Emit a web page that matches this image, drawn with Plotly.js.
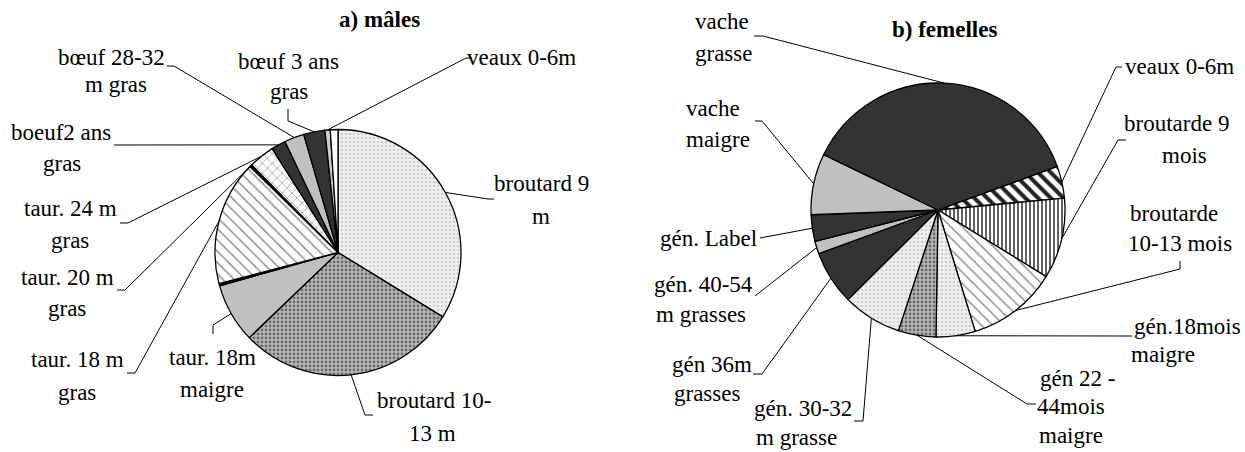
<!DOCTYPE html>
<html><head><meta charset="utf-8">
<script src="https://cdn.plot.ly/plotly-3.0.1.min.js"></script>
<style>html,body{margin:0;padding:0;background:#fff}#chart{width:1245px;height:452px}</style>
</head><body><div id="chart"></div>
<script>
// ---------------- DATA (% of each herd) ----------------
const maleCategories = ["broutard 9 m","broutard 10-13 m","taur. 18m maigre","(non étiqueté a)","taur. 18 m gras","taur. 20 m gras","taur. 24 m gras","boeuf2 ans gras","bœuf 28-32 m gras","bœuf 3 ans gras","veaux 0-6m","(non étiqueté b)"];
const maleValues = [33.8, 29.1, 7.8, 0.3, 16.4, 0.3, 3.4, 1.9, 2.6, 2.8, 0.7, 1.0];
const maleLabelText = ["broutard 9\nm","broutard 10-\n13 m","taur. 18m\nmaigre",null,"taur. 18 m\ngras","taur. 20 m\ngras","taur. 24 m\ngras","boeuf2 ans\ngras","bœuf 28-32\nm gras","bœuf 3 ans\ngras","veaux 0-6m",null];

const femaleCategories = ["veaux 0-6m","broutarde 9 mois","broutarde 10-13 mois","gén.18mois maigre","gén 22 - 44mois maigre","gén. 30-32 m grasse","gén 36m grasses","gén. 40-54 m grasses","gén. Label","vache maigre","vache grasse"];
const femaleValues = [4.1, 10.3, 11.5, 5.0, 4.8, 7.5, 6.9, 1.6, 3.4, 7.8, 37.3];
const femaleLabelText = ["veaux 0-6m","broutarde 9\nmois","broutarde\n10-13 mois","gén.18mois\nmaigre","gén 22 -\n44mois\nmaigre","gén. 30-32\nm grasse","gén 36m\ngrasses","gén. 40-54\nm grasses","gén. Label","vache\nmaigre","vache\ngrasse"];

const titleA = "a) mâles";
const titleB = "b) femelles";

// ---------------- STYLE / LAYOUT ----------------
const W = 1245, H = 452;
const FONT = "'Liberation Serif', 'Times New Roman', 'DejaVu Serif', serif";
const PIE_A = {cx: 338, cy: 252.5, r: 123, rotation: 0};
const PIE_B = {cx: 938, cy: 210, r: 127, rotation: 69.9};

// fill styles per slice: [shape, fg, bg, size, solidity]
const LIGHT_SPECKLE = [".", "#cfcfcc", "#f1f1ef", 4, 0.35];
const DARK_SPECKLE  = [".", "#6a6a6a", "#b9b9b9", 4, 0.4];
const DASH_HATCH    = ["\\", "#8a8a8a", "#ffffff", 8, 0.18];
const SOLID = c => ["", c, c, 8, 0.3];
const maleStyles = [LIGHT_SPECKLE, DARK_SPECKLE, SOLID("#c0c0c0"), SOLID("#000000"), DASH_HATCH, SOLID("#000000"),
  ["x", "#8f8f8f", "#ffffff", 7, 0.18], SOLID("#333333"), SOLID("#c0c0c0"), SOLID("#333333"), SOLID("#cccccc"), SOLID("#ffffff")];
const femaleStyles = [["\\", "#222222", "#ffffff", 9, 0.45], ["|", "#3a3a3a", "#ffffff", 4, 0.4], DASH_HATCH,
  LIGHT_SPECKLE, DARK_SPECKLE, LIGHT_SPECKLE, SOLID("#333333"), SOLID("#c0c0c0"), SOLID("#333333"), SOLID("#c0c0c0"), SOLID("#333333")];

// label placement (pixels): line centres, and leader start/elbow points
const maleLabelPos = [
  {lines: [[541,183],[541,216]], leader: [[494,199],[488,199]]},
  {lines: [[434,400],[432,433]], leader: [[373,415],[365,415]]},
  {lines: [[212,357],[212,389]], leader: [[213,334],[213,325]]},
  null,
  {lines: [[77,359],[77,392]], leader: [[127,373],[135,373]]},
  {lines: [[67,277],[67,308]], leader: [[117,290],[125,290]]},
  {lines: [[70,208],[70,240]], leader: [[120,223],[128,223]]},
  {lines: [[61,132],[62,163]], leader: [[114,145]]},
  {lines: [[111,58],[116,84]], leader: [[167,66],[174,66]]},
  {lines: [[288,61],[289,92]], leader: [[288,109],[288,121]]},
  {lines: [[521,57]], leader: [[472,58],[466,58]]},
  null
];
const femaleLabelPos = [
  {lines: [[1179,66]], leader: [[1122,67],[1116,67]]},
  {lines: [[1176,124],[1184,155]], leader: [[1126,140],[1118,140]]},
  {lines: [[1174,214],[1180,244]], leader: [[1180,261],[1180,269]]},
  {lines: [[1187,326],[1163,354]], leader: [[1132,336]]},
  {lines: [[1077,378],[1071,406],[1071,435]], leader: [[1036,404],[1027,404]]},
  {lines: [[803,408],[796,437]], leader: [[854,421],[863,421]]},
  {lines: [[712,364],[707,393]], leader: [[753,374],[762,374]]},
  {lines: [[703,284],[701,314]], leader: [[755,296]]},
  {lines: [[708,238]], leader: [[760,238]]},
  {lines: [[713,108],[718,139]], leader: [[755,121],[762,121]]},
  {lines: [[722,21],[723,53]], leader: [[754,36],[763,36]]}
];

// ---------------- BUILD ----------------
const px = x => x / W, py = y => 1 - y / H;
function domainOf(p) {
  return {x: [px(p.cx - p.r), px(p.cx + p.r)], y: [py(p.cy + p.r), py(p.cy - p.r)]};
}
function pieTrace(cats, vals, styles, p) {
  return {
    type: "pie", labels: cats, values: vals, sort: false, direction: "clockwise",
    rotation: p.rotation, textinfo: "none", hoverinfo: "label+percent", showlegend: false,
    domain: domainOf(p),
    marker: {
      colors: styles.map(s => s[2]),
      line: {color: "#000", width: 1.3},
      pattern: {
        shape: styles.map(s => s[0]), fgcolor: styles.map(s => s[1]), bgcolor: styles.map(s => s[2]),
        size: styles.map(s => s[3]), solidity: styles.map(s => s[4]), fillmode: "replace"
      }
    }
  };
}
function edgePoints(vals, p) {
  const tot = vals.reduce((a, b) => a + b, 0);
  let acc = 0;
  return vals.map(v => {
    const a = (p.rotation + (acc + v / 2) / tot * 360) * Math.PI / 180;
    acc += v;
    return [p.cx + p.r * Math.sin(a), p.cy - p.r * Math.cos(a)];
  });
}
const annotations = [], shapes = [];
function addLabels(texts, pos, vals, p) {
  const edges = edgePoints(vals, p);
  texts.forEach((t, i) => {
    if (!t || !pos[i]) return;
    const lines = t.split("\n");
    lines.forEach((ln, j) => {
      const c = pos[i].lines[j];
      annotations.push({xref: "paper", yref: "paper", x: px(c[0]), y: py(c[1]), text: ln, showarrow: false,
        xanchor: "center", yanchor: "middle", font: {family: FONT, size: 23, color: "#000"}});
    });
    const pts = pos[i].leader.concat([edges[i]]);
    const d = pts.map((q, k) => (k ? "L" : "M") + px(q[0]) + "," + py(q[1])).join(" ");
    shapes.push({type: "path", xref: "paper", yref: "paper", path: d, line: {color: "#000", width: 1}});
  });
}
addLabels(maleLabelText, maleLabelPos, maleValues, PIE_A);
addLabels(femaleLabelText, femaleLabelPos, femaleValues, PIE_B);
annotations.push({xref: "paper", yref: "paper", x: px(379), y: py(19), text: "<b>" + titleA + "</b>", showarrow: false,
  xanchor: "center", yanchor: "middle", font: {family: FONT, size: 23, color: "#000"}});
annotations.push({xref: "paper", yref: "paper", x: px(944), y: py(30), text: "<b>" + titleB + "</b>", showarrow: false,
  xanchor: "center", yanchor: "middle", font: {family: FONT, size: 23, color: "#000"}});

Plotly.newPlot("chart", [
  pieTrace(maleCategories, maleValues, maleStyles, PIE_A),
  pieTrace(femaleCategories, femaleValues, femaleStyles, PIE_B)
], {
  width: W, height: H, margin: {l: 0, r: 0, t: 0, b: 0},
  paper_bgcolor: "#fff", plot_bgcolor: "#fff",
  annotations: annotations, shapes: shapes, font: {family: FONT}
}, {staticPlot: true});
</script></body></html>
